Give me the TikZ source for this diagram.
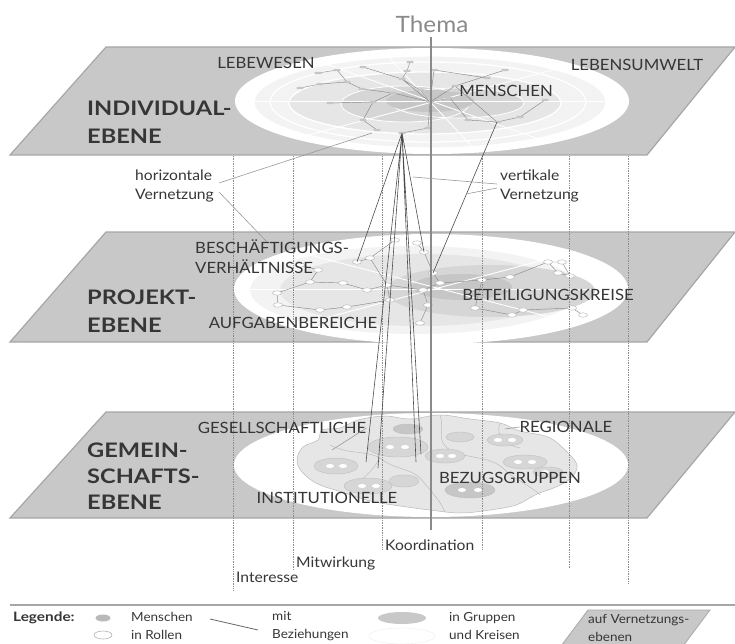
\documentclass[tikz,border=0pt]{standalone}
\usepackage{fontspec}
\setmainfont{Lato}[FakeStretch=1.08]
\newfontfamily\headfont{Lato}[FakeStretch=1.18]
\usetikzlibrary{shapes.geometric}
\definecolor{planefill}{HTML}{C8C8C8}
\definecolor{planeedge}{HTML}{A6A6A6}
\definecolor{lbl}{HTML}{363636}
\definecolor{themagray}{HTML}{8A8A8A}
\definecolor{netgray}{HTML}{8A8A8A}
\definecolor{dotgray}{HTML}{8C8C8C}
\definecolor{g1}{HTML}{F3F3F3}
\definecolor{g2}{HTML}{E6E6E6}
\definecolor{g3}{HTML}{D6D6D6}
\definecolor{g4}{HTML}{C6C6C6}
\begin{document}
\begin{tikzpicture}[x=1pt,y=-1pt,
  plane/.style={fill=planefill,draw=planeedge,line width=1.2},
  caplbl/.style={font=\fontsize{15.5}{18}\selectfont,text=lbl,inner sep=0},
  biglbl/.style={font=\headfont\fontsize{20}{28}\selectfont\bfseries,text=lbl,align=left,anchor=west,inner sep=0},
  smalllbl/.style={font=\fontsize{14.5}{19}\selectfont,text=lbl,align=left,anchor=west,inner sep=0},
  leglbl/.style={font=\fontsize{12.5}{17.5}\selectfont,text=lbl,align=left,anchor=west,inner sep=0},
  netline/.style={draw=netgray,line width=0.45},
  fanline/.style={draw=black!70,line width=0.6},
  ptrline/.style={draw=gray!80,line width=0.6},
  dotline/.style={draw=dotgray,densely dotted,line width=0.7},
  tinylbl/.style={fill=gray!45,rounded corners=0.8,minimum width=7,minimum height=2.2,inner sep=0},
  mnode/.style={ellipse,draw=gray!60,fill=white,line width=0.4,minimum width=9,minimum height=4.5,inner sep=0},
  ring/.style={draw=white,line width=1.3},
]
\useasboundingbox (0,0) rectangle (735,644);

% ---------------- planes ----------------
\draw[plane] (10,155) -- (106,47) -- (735,47) -- (647,155) -- cycle;
\draw[plane] (10,342) -- (106,232) -- (735,232) -- (647,342) -- cycle;
\draw[plane] (10,518) -- (106,412) -- (735,412) -- (647,518) -- cycle;

% ---------------- top ellipse (Individual) ----------------
\fill[white] (432,101) ellipse[x radius=197,y radius=53];
\fill[g1] (430,102) ellipse[x radius=176,y radius=46];
\draw[ring] (430,102) ellipse[x radius=176,y radius=46];
\draw[ring] (428,102) ellipse[x radius=158,y radius=40];
\fill[g2] (425,103) ellipse[x radius=136,y radius=31];
\draw[ring] (425,103) ellipse[x radius=136,y radius=31];
\fill[g3] (405,104) ellipse[x radius=64,y radius=18];
\fill[g3] (458,103) ellipse[x radius=66,y radius=15];
\draw[white,line width=0.8] (405,104) ellipse[x radius=64,y radius=18];
\draw[white,line width=0.8] (458,103) ellipse[x radius=66,y radius=15];
\fill[g4] (430,101) ellipse[x radius=44,y radius=11];
\begin{scope}
\clip (432,101) ellipse[x radius=197,y radius=53];
\draw[white,line width=0.9] (300,55) -- (570,150);
\draw[white,line width=0.9] (290,140) -- (590,60);
\draw[white,line width=0.9] (240,101) -- (630,101);
\draw[white,line width=0.9] (380,48) -- (480,155);
\end{scope}

% top network
\foreach \n/\x/\y in {t1/410/62,t2/407/71,t3/402/79,t4/363/67,t5/337/70,
  t6/318/73,t7/320/84,t8/347/82,t9/362/89,t10/330/103,t11/373/102,
  t12/363/120,t13/377/130,tc/430/102,t15/420/90,t16/434/70,t17/450/98,
  t18/468/120,t19/497/122,t20/487/78,t21/520/117,t22/428/128,t23/393/93,
  t24/300/88,t25/455/86,t26/282/60,t27/300/58,t28/545/100,t29/505/70,hub/402/133}
  {\coordinate (\n) at (\x,\y);}
\draw[netline] (t1)--(t2)--(t3)--(tc) (t4)--(t3) (t6)--(t5)--(t8)--(t9)--(t23)--(tc)
  (t7)--(t8) (t10)--(t11)--(t23) (t12)--(t11) (t12)--(t13) (hub)--(t22)--(tc)
  (tc)--(t15)--(t3) (tc)--(t17)--(t18)--(t19) (t19)--(t25)--(tc) (t20)--(t16)--(tc)
  (t21)--(t19) (t24)--(t7) (t29)--(t25) (t28)--(t21);
\foreach \n in {t1,t2,t3,t4,t5,t6,t7,t8,t9,t10,t11,t12,t13,tc,t15,t16,t17,t18,t19,t20,t21,t22,t23,t24,t25,t26,t27,t28,t29,hub}
  {\node[tinylbl] at (\n) {};}

% ---------------- middle ellipse (Projekt) ----------------
\fill[white] (431,289) ellipse[x radius=197,y radius=55];
\fill[g1] (415,290) ellipse[x radius=165,y radius=44];
\fill[g2] (420,290) ellipse[x radius=140,y radius=36];
\fill[g3] (490,291) ellipse[x radius=105,y radius=26];
\fill[g4] (462,287) ellipse[x radius=50,y radius=13];
\begin{scope}
\clip (431,289) ellipse[x radius=197,y radius=55];
\draw[white,line width=0.9] (290,250) -- (600,330);
\draw[white,line width=0.9] (280,330) -- (600,245);
\draw[white,line width=0.9] (236,289) -- (628,289);
\end{scope}
\foreach \n/\x/\y in {p1/357/262,p2/370/258,p3/417/243,p4/424/252,p5/433/273,
  p6/440/283,p7/387/285,p8/390/300,p9/367/290,p10/343/283,p11/310/282,
  p12/318/270,p13/277/293,p14/278/305,p15/320/310,p16/347/307,p17/423/290,
  p18/428/305,p19/420/323,p20/482/280,p21/510/277,p22/523/310,p23/548/262,
  p24/558/273,p25/570/276,p26/562/262,p27/572/308,p28/583/315,p29/512/315,
  p30/475/308,p31/300/265,p32/395/240}
  {\coordinate (\n) at (\x,\y);}
\draw[netline] (p1)--(p2)--(p32) (p3)--(p4)--(p5)--(p6)--(p17)--(p7)--(p8)--(p16)
  (p7)--(p9)--(p10)--(p11)--(p12)--(p31) (p11)--(p13)--(p14)--(p15)--(p16)
  (p17)--(p18)--(p19) (p6)--(p20)--(p21)--(p23)--(p24)--(p25)--(p26)--(p23)
  (p20)--(p30)--(p29)--(p22)--(p27)--(p28) (p2)--(p7);
\foreach \n in {p1,p2,p3,p4,p5,p6,p7,p8,p9,p10,p11,p12,p13,p14,p15,p16,p17,p18,p19,p20,p21,p22,p23,p24,p25,p26,p27,p28,p29,p30,p31,p32}
  {\node[mnode] at (\n) {};}

% ---------------- bottom ellipse (Gemeinschaft) ----------------
\fill[white] (431,465) ellipse[x radius=197,y radius=52];
\path[fill=g2,draw=gray!55,line width=0.5] plot[smooth cycle,tension=0.6] coordinates {
  (297,460) (303,447) (318,440) (322,430) (340,428) (358,420) (385,416) (410,419) (440,415)
  (470,419) (500,423) (520,431) (548,437) (565,450) (577,465) (571,478) (556,487) (537,494)
  (516,505) (490,510) (460,513) (430,510) (400,506) (370,501) (345,493) (318,484) (302,472)};
\draw[gray!55,line width=0.45] (330,445) .. controls (350,455) and (365,450) .. (380,458)
  .. controls (395,470) and (410,468) .. (420,478)
  .. controls (430,490) and (440,500) .. (445,512);
\draw[gray!55,line width=0.45] (440,415) .. controls (445,430) and (435,440) .. (450,450)
  .. controls (470,460) and (490,455) .. (505,470)
  .. controls (515,480) and (530,485) .. (540,495);
\draw[gray!55,line width=0.45] (350,490) .. controls (360,480) and (370,475) .. (380,458);
\draw[gray!55,line width=0.45] (500,423) .. controls (495,435) and (505,445) .. (520,448);
\foreach \cx/\cy/\rx/\ry/\f in {398/447/30/10/g3,445/456/20/7/g3,505/440/18/6/g3,
  525/462/22/7/g3,548/472/15/5/g3,470/490/25/8/g4,336/466/22/8/g3,
  368/486/24/8/g3,404/481/15/6/g3,408/429/15/5/g4,460/437/14/5/g3}
  {\draw[fill=\f,draw=gray!50,line width=0.4] (\cx,\cy) ellipse[x radius=\rx,y radius=\ry];}
\foreach \cx/\cy in {390/447,405/447,440/456,452/456,498/440,512/440,518/462,532/462,
  462/490,478/490,330/466,343/466,362/486,376/486,545/472}
  {\fill[white] (\cx,\cy) ellipse[x radius=4,y radius=2];}

% ---------------- dotted vertical guides ----------------
\foreach \n/\x/\ybot in {d1/233/590,d2/293/570,d3/382/550,d4/482/550,d5/569/568,d6/628/583}
{ \coordinate (\n top) at (\x,156); \coordinate (\n bot) at (\x,\ybot);
  \draw[dotline] (\n top) -- (\n bot); }

% ---------------- vertical network (fan) lines ----------------
\coordinate (b1) at (366,462); \coordinate (b2) at (378,468);
\coordinate (b3) at (416,462); \coordinate (b4) at (421,454);
\draw[fanline] (hub)--(p1) (hub)--(p4) (hub)--(b1) (hub)--(b2) (hub)--(b3) (hub)--(b4)
  (t19)--(p5);

% ---------------- Thema line ----------------
\node[font=\fontsize{22.5}{25}\selectfont,text=themagray,inner sep=0] (thema) at (432,24) {Thema};
\coordinate (themaend) at (431,530);
\draw[themagray,line width=1.8] (431,37) -- (themaend);

% ---------------- labels ----------------
\node[caplbl] (lebewesen) at (266,63) {LEBEWESEN};
\node[caplbl] (lebensumwelt) at (637,65) {LEBENSUMWELT};
\node[caplbl] (menschen) at (506,91) {MENSCHEN};
\node[biglbl] (indiv) at (87,122) {INDIVIDUAL-\\EBENE};

\node[smalllbl] (hv) at (135,186) {horizontale\\Vernetzung};
\node[smalllbl] (vv) at (500,186) {vertikale\\Vernetzung};
\coordinate (hvA) at (219,183); \coordinate (hvB) at (219,192);
\coordinate (hvEndA) at (372,133); \coordinate (hvEndB) at (268,243);
\draw[ptrline] (hvA) -- (hvEndA) (hvB) -- (hvEndB);
\coordinate (vvA) at (497,184); \coordinate (vvB) at (497,188);
\coordinate (vvEndA) at (413,177); \coordinate (vvEndB) at (466,194);
\draw[ptrline] (vvA) -- (vvEndA) (vvB) -- (vvEndB);

\node[caplbl,align=left,anchor=west,font=\fontsize{15.5}{20}\selectfont] (besch) at (195,257) {BESCHÄFTIGUNGS-\\VERHÄLTNISSE};
\node[biglbl] (proj) at (87,311) {PROJEKT-\\EBENE};
\node[caplbl] (aufg) at (293,323) {AUFGABENBEREICHE};
\node[caplbl] (beteil) at (548,295) {BETEILIGUNGSKREISE};

\node[caplbl] (gesell) at (282,428) {GESELLSCHAFTLICHE};
\node[biglbl,font=\headfont\fontsize{20}{26}\selectfont\bfseries] (gemein) at (87,476) {GEMEIN-\\SCHAFTS-\\EBENE};
\node[caplbl] (regional) at (566,427) {REGIONALE};
\node[caplbl] (bezug) at (510,478) {BEZUGSGRUPPEN};
\node[caplbl] (instit) at (327,498) {INSTITUTIONELLE};
\coordinate (gesEnd) at (332,450); \coordinate (regEnd) at (505,429);
\draw[ptrline] (gesell.east) -- (gesEnd);
\draw[ptrline] (regional.west) -- (regEnd);

\node[smalllbl] (interesse) at (236,577) {Interesse};
\node[smalllbl] (mitwirk) at (296,563) {Mitwirkung};
\node[smalllbl] (koord) at (385,545) {Koordination};

% ---------------- legend ----------------
\coordinate (legL) at (10,605); \coordinate (legR) at (735,605);
\draw[gray!70,line width=1.2] (legL) -- (legR);
\node[leglbl,font=\headfont\fontsize{13}{17}\selectfont\bfseries] (legende) at (13,618) {Legende:};
\node[ellipse,fill=gray!55,minimum width=15,minimum height=7,inner sep=0] (lg1) at (103,618) {};
\node[ellipse,draw=gray!60,fill=white,line width=0.6,minimum width=18,minimum height=8,inner sep=0] (lg2) at (103,635) {};
\node[leglbl] (lt1) at (131,626) {Menschen\\in Rollen};
\coordinate (lnA) at (210,619); \coordinate (lnB) at (258,630);
\draw[netline,draw=gray!80!black,line width=0.8] (lnA) -- (lnB);
\node[leglbl] (lt2) at (272,626) {mit\\Beziehungen};
\node[ellipse,fill=planefill,minimum width=48,minimum height=12,inner sep=0] (lg3) at (402,618) {};
\node[ellipse,draw=gray!15,fill=white,minimum width=66,minimum height=16,inner sep=0] (lg4) at (402,636) {};
\node[leglbl] (lt3) at (449,626) {in Gruppen\\und Kreisen};
\draw[plane,line width=0.8] (561,646) -- (588,610) -- (710,610) -- (683,646) -- cycle;
\node[leglbl] (lt4) at (588,628) {auf Vernetzungs-\\ebenen};
\end{tikzpicture}
\end{document}
